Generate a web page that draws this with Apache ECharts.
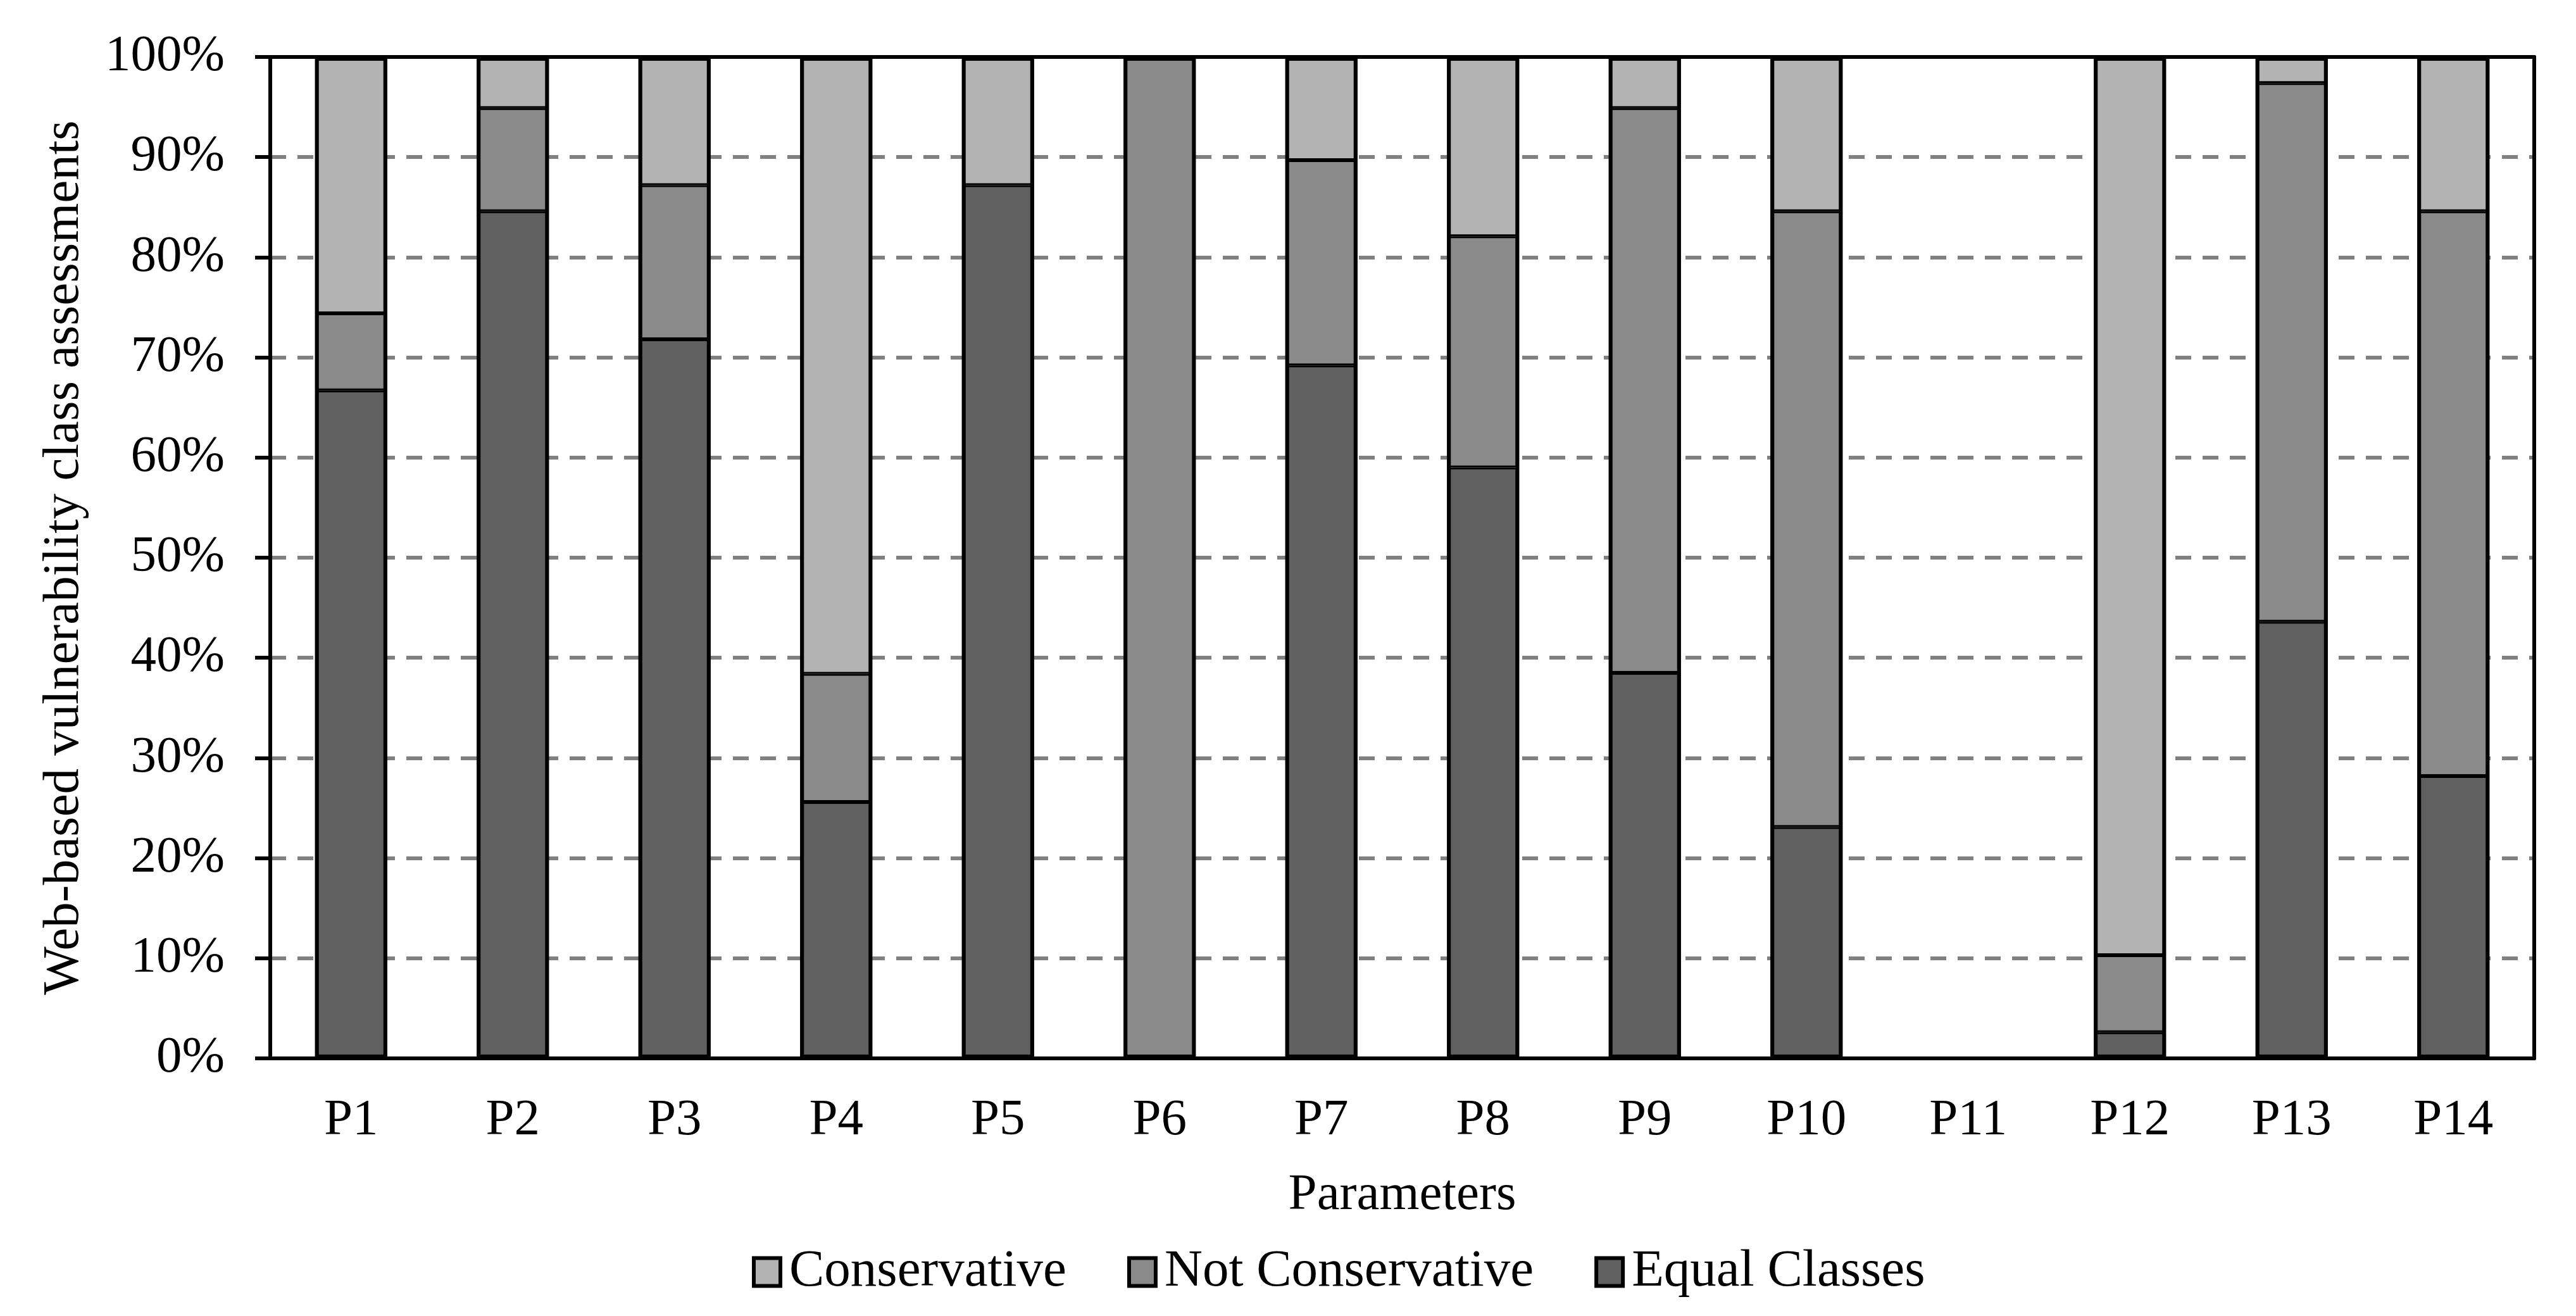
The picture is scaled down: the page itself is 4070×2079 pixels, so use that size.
<!DOCTYPE html>
<html>
<head>
<meta charset="utf-8">
<script src="https://cdn.jsdelivr.net/npm/echarts@6/dist/echarts.min.js"></script>
<style>
html,body{margin:0;padding:0;background:#fff;}
#chart{width:4070px;height:2079px;}
</style>
</head>
<body>
<div id="chart"></div>
<script>
const categories = ['P1','P2','P3','P4','P5','P6','P7','P8','P9','P10','P11','P12','P13','P14'];
const equalClasses    = [66.7, 84.6, 71.8, 25.6, 87.2, 0, 69.2, 59.0, 38.5, 23.1, 0, 2.6, 43.6, 28.2];
const notConservative = [7.7, 10.3, 15.4, 12.8, 0, 100, 20.5, 23.1, 56.4, 61.5, 0, 7.7, 53.8, 56.4];
const conservative    = [25.6, 5.1, 12.8, 61.6, 12.8, 0, 10.3, 17.9, 5.1, 15.4, 0, 89.7, 2.6, 15.4];
const seriesNames = ['Equal Classes', 'Not Conservative', 'Conservative'];
const legendOrder = ['Conservative', 'Not Conservative', 'Equal Classes'];
const yTicks = [0,10,20,30,40,50,60,70,80,90,100];

const FONT = '"Liberation Serif", "Times New Roman", serif';
const colors = ['#606060', '#8a8a8a', '#b3b3b3'];
const dataSets = [equalClasses, notConservative, conservative];
const BW = 6;
const BAR_W = 114;

// outline of each full stacked column (sum of the three series)
const totals = categories.map((c, k) => {
  const s = equalClasses[k] + notConservative[k] + conservative[k];
  return s === 0 ? '-' : Math.round(s * 10) / 10;
});

const segSeries = seriesNames.map((name, i) => ({
  name: name,
  type: 'bar',
  stack: 'total',
  barWidth: BAR_W,
  barGap: '-100%',
  data: dataSets[i].map(v => v === 0 ? '-' : v),
  itemStyle: {color: colors[i], borderColor: '#000', borderWidth: BW / 2}
}));

const outlineSeries = {
  name: 'outline',
  type: 'bar',
  barWidth: BAR_W,
  barGap: '-100%',
  silent: true,
  z: 3,
  data: totals,
  itemStyle: {color: 'rgba(0,0,0,0)', borderColor: '#000', borderWidth: BW}
};

const chart = echarts.init(document.getElementById('chart'), null, {renderer: 'canvas'});
chart.setOption({
  backgroundColor: '#ffffff',
  animation: false,
  textStyle: {fontFamily: FONT, color: '#000'},
  grid: {left: 427, right: 66, top: 90, bottom: 407, show: false},
  legend: {
    data: legendOrder,
    left: 1183, top: 1963,
    itemWidth: 42, itemHeight: 44, itemGap: 96,
    icon: 'rect',
    textStyle: {fontFamily: FONT, fontSize: 83, color: '#000', padding: [0,0,0,9]},
    itemStyle: {borderColor: '#000', borderWidth: BW}
  },
  xAxis: [{
    type: 'category',
    data: categories,
    name: 'Parameters',
    nameLocation: 'middle',
    nameGap: 176,
    nameTextStyle: {fontFamily: FONT, fontSize: 81, color: '#000'},
    axisLine: {onZero: false, lineStyle: {color: '#000', width: BW}},
    axisTick: {show: false},
    axisLabel: {fontFamily: FONT, fontSize: 81, color: '#000', margin: 58},
    splitLine: {show: false},
    z: 5
  }, {
    type: 'category',
    data: categories,
    position: 'top',
    axisLine: {show: true, onZero: false, lineStyle: {color: '#000', width: BW}},
    axisTick: {show: false},
    axisLabel: {show: false},
    splitLine: {show: false},
    z: 5
  }],
  yAxis: [{
    type: 'value',
    min: yTicks[0], max: yTicks[yTicks.length-1], interval: 10,
    name: 'Web-based vulnerability class assessments',
    nameLocation: 'middle',
    nameGap: 285,
    nameRotate: 90,
    nameTextStyle: {fontFamily: FONT, fontSize: 81, color: '#000'},
    axisLine: {show: true, onZero: false, lineStyle: {color: '#000', width: BW}},
    axisTick: {show: true, length: 24, lineStyle: {color: '#000', width: BW}},
    axisLabel: {fontFamily: FONT, fontSize: 81, color: '#000', margin: 72, formatter: '{value}%'},
    splitLine: {show: true, lineStyle: {color: '#808080', width: 6, type: [25, 18]}},
    z: 1
  }, {
    type: 'value',
    min: yTicks[0], max: yTicks[yTicks.length-1], interval: 10,
    position: 'right',
    axisLine: {show: true, onZero: false, lineStyle: {color: '#000', width: BW}},
    axisTick: {show: false},
    axisLabel: {show: false},
    splitLine: {show: false},
    z: 5
  }],
  series: segSeries.concat([outlineSeries])
});
</script>
</body>
</html>
